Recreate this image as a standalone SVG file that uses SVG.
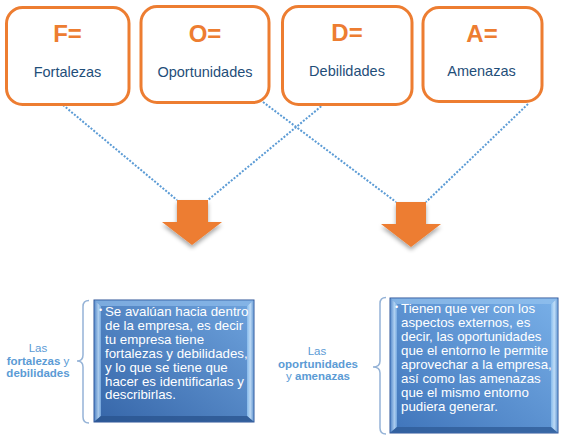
<svg xmlns="http://www.w3.org/2000/svg" width="565" height="441" viewBox="0 0 565 441">
<defs>
<style>
.box{fill:#fff;stroke:#ED7D31;stroke-width:3}
.let{font-family:"Liberation Sans",Arial,sans-serif;font-weight:bold;font-size:24px;fill:#ED7D31;text-anchor:middle}
.lbl{font-family:"Liberation Sans",Arial,sans-serif;font-size:14.5px;fill:#1F4E79;text-anchor:middle}
.dot{stroke:#5B9BD5;stroke-width:2;stroke-dasharray:2 1.6;fill:none}
.arr{fill:#ED7D31;filter:url(#sh)}
.side{font-family:"Liberation Sans",Arial,sans-serif;font-size:11.5px;fill:#5B9BD5;text-anchor:middle}
.b{font-weight:bold}
.brace{fill:none;stroke:#95B3D7;stroke-width:1.5}
.body{font-family:"Liberation Sans",Arial,sans-serif;font-size:13.3px;fill:#fff}
.bul{font-family:"Liberation Sans",Arial,sans-serif;font-size:9px;fill:#fff}
.panel{stroke:#2F5597;stroke-width:1}
</style>
<filter id="sh" x="-30%" y="-30%" width="160%" height="170%">
<feDropShadow dx="0" dy="3" stdDeviation="2" flood-color="#000" flood-opacity="0.35"/>
</filter>
<linearGradient id="g1" x1="0" y1="1" x2="1" y2="0">
<stop offset="0" stop-color="#3565A8"/>
<stop offset="1" stop-color="#6FA4DE"/>
</linearGradient>
<linearGradient id="g2" x1="0" y1="1" x2="1" y2="0">
<stop offset="0" stop-color="#3F74BA"/>
<stop offset="1" stop-color="#79B0E8"/>
</linearGradient>
<linearGradient id="bl" x1="0" y1="0" x2="1" y2="0">
<stop offset="0" stop-color="#5E90CF"/>
<stop offset="0.6" stop-color="#C5E1FA"/>
<stop offset="1" stop-color="#7FB1E6"/>
</linearGradient>
<linearGradient id="br" x1="0" y1="0" x2="1" y2="0">
<stop offset="0" stop-color="#8CC0F0"/>
<stop offset="0.5" stop-color="#CDE6FB"/>
<stop offset="1" stop-color="#6F9FD6"/>
</linearGradient>
</defs>

<g id="connectors">
<line class="dot" x1="63" y1="105" x2="177" y2="200"/>
<line class="dot" x1="324" y1="104" x2="208" y2="200"/>
<line class="dot" x1="263" y1="102" x2="396" y2="202"/>
<line class="dot" x1="528" y1="104" x2="426" y2="202"/>
</g>

<g id="boxF">
<rect class="box" x="6.5" y="7.5" width="122.5" height="97" rx="16"/>
<text class="let" x="67.5" y="42">F=</text>
<text class="lbl" x="67.5" y="77">Fortalezas</text>
</g>
<g id="boxO">
<rect class="box" x="141" y="6.5" width="128" height="96" rx="16"/>
<text class="let" x="205" y="41.5">O=</text>
<text class="lbl" x="205" y="77">Oportunidades</text>
</g>
<g id="boxD">
<rect class="box" x="282.5" y="6.5" width="129.5" height="98" rx="16"/>
<text class="let" x="347" y="40.5">D=</text>
<text class="lbl" x="347" y="76">Debilidades</text>
</g>
<g id="boxA">
<rect class="box" x="423" y="7.5" width="119" height="94" rx="16"/>
<text class="let" x="482" y="41.5">A=</text>
<text class="lbl" x="481.5" y="76">Amenazas</text>
</g>

<g id="arrow1">
<polygon class="arr" points="177,200 208,200 208,222 222,222 192,245 162,222 177,222"/>
</g>
<g id="arrow2">
<polygon class="arr" points="396,202 426,202 426,224 441,224 411,247 381,224 396,224"/>
</g>

<g id="labelFD">
<text class="side" x="38" y="352">Las</text>
<text class="side" x="38" y="364.5"><tspan class="b">fortalezas</tspan> y</text>
<text class="side b" x="38" y="377">debilidades</text>
<path class="brace" d="M89 300.5 Q83 300.5 83 306.5 L83 355 Q83 361 77 361 Q83 361 83 367 L83 417 Q83 423 89 423"/>
</g>

<g id="panelFD">
<rect class="panel" x="94" y="300" width="160" height="122" fill="url(#g1)"/>
<polygon points="94.5,300.5 253.5,300.5 247,306 101,306" fill="#8DBBEA" opacity="0.7"/>
<polygon points="94.5,300.5 101,306 101,416 94.5,421.5" fill="url(#bl)" opacity="0.8"/>
<polygon points="253.5,300.5 253.5,421.5 247,416 247,306" fill="url(#br)" opacity="0.85"/>
<polygon points="94.5,421.5 101,416 247,416 253.5,421.5" fill="#2A5590" opacity="0.8"/>
<text class="bul" x="99" y="313">•</text>
<text class="body" x="105">
<tspan x="105" y="316">Se avalúan hacia dentro</tspan>
<tspan x="105" y="330">de la empresa, es decir</tspan>
<tspan x="105" y="344">tu empresa tiene</tspan>
<tspan x="105" y="357.5">fortalezas y debilidades,</tspan>
<tspan x="105" y="371.5">y lo que se tiene que</tspan>
<tspan x="105" y="385.5">hacer es identificarlas y</tspan>
<tspan x="105" y="399">describirlas.</tspan>
</text>
</g>

<g id="labelOA">
<text class="side" x="317" y="355">Las</text>
<text class="side b" x="318" y="367.5">oportunidades</text>
<text class="side" x="318" y="380">y <tspan class="b">amenazas</tspan></text>
<path class="brace" d="M386 297.5 Q380 297.5 380 303.5 L380 361 Q380 367 373 367 Q380 367 380 373 L380 428 Q380 434 386 434"/>
</g>

<g id="panelOA">
<rect class="panel" x="390" y="298" width="168" height="135" fill="url(#g2)"/>
<polygon points="390.5,298.5 557.5,298.5 551,304 397,304" fill="#94C2EE" opacity="0.7"/>
<polygon points="390.5,298.5 397,304 397,427 390.5,432.5" fill="url(#bl)" opacity="0.8"/>
<polygon points="557.5,298.5 557.5,432.5 551,427 551,304" fill="url(#br)" opacity="0.85"/>
<polygon points="390.5,432.5 397,427 551,427 557.5,432.5" fill="#2F5C98" opacity="0.8"/>
<text class="bul" x="395" y="310">•</text>
<text class="body">
<tspan x="401" y="313">Tienen que ver con los</tspan>
<tspan x="401" y="327">aspectos externos, es</tspan>
<tspan x="401" y="341">decir, las oportunidades</tspan>
<tspan x="401" y="355">que el entorno le permite</tspan>
<tspan x="401" y="369">aprovechar a la empresa,</tspan>
<tspan x="401" y="383">así como las amenazas</tspan>
<tspan x="401" y="397">que el mismo entorno</tspan>
<tspan x="401" y="411">pudiera generar.</tspan>
</text>
</g>
</svg>
